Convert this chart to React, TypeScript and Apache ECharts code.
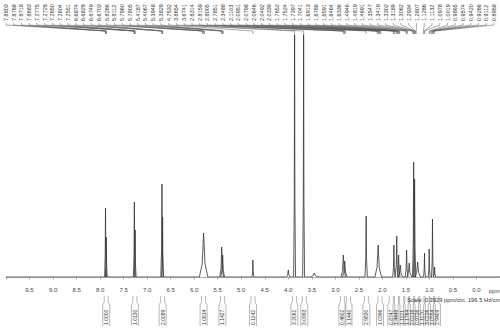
import React, { useEffect, useRef } from "react";
import * as echarts from "echarts";

// Spectrum peaks: [ppm, height (intensity units), half width (ppm)]
const peakPpm = [7.885, 7.868, 7.272, 7.255, 6.685, 6.672, 5.80, 5.415, 5.395, 4.752, 4.00, 3.866, 3.674, 3.45, 2.83, 2.80, 2.345, 2.09, 1.755, 1.695, 1.655, 1.62, 1.485, 1.43, 1.335, 1.315, 1.25, 1.105, 1.005, 0.935, 0.89];
const peakHeight = [69, 40, 75, 47, 93, 60, 44, 30, 22, 17, 7, 260, 260, 4, 22, 16, 61, 32, 32, 41, 22, 12, 27, 14, 115, 98, 15, 24, 28, 58, 10];
const peakWidth = [0.02, 0.02, 0.02, 0.02, 0.025, 0.02, 0.09, 0.04, 0.04, 0.02, 0.04, 0.02, 0.02, 0.08, 0.05, 0.05, 0.025, 0.07, 0.025, 0.025, 0.03, 0.05, 0.03, 0.05, 0.025, 0.025, 0.06, 0.02, 0.02, 0.02, 0.02];

// Peak-pick labels (ppm) shown along the top
const pickLabels = [
  7.8803, 7.8768, 7.8718, 7.8683,
  7.2775, 7.2729, 7.2650, 7.2604, 7.2551,
  6.6874, 6.6829, 6.6749, 6.6703,
  5.8266, 5.8112, 5.7960, 5.7805,
  5.4187, 5.4067, 5.3948, 5.3829,
  4.7532, 3.8654, 3.6741,
  2.8314, 2.8159, 2.8005, 2.7851,
  2.3488,
  2.1103, 2.0951, 2.0798, 2.0646, 2.0492, 2.0339,
  1.7652, 1.7524, 1.7397, 1.7041, 1.6913, 1.6786, 1.6591, 1.6464, 1.6336,
  1.4946, 1.4819, 1.4691,
  1.3547, 1.3419, 1.3302, 1.3189, 1.3062, 1.2934, 1.2807,
  1.1286, 1.1132, 1.0978, 1.0019, 0.9865, 0.9574, 0.9420, 0.9266, 0.9112, 0.8958,
];

// Integrals: position (ppm) and value
const integralPpm = [7.87, 7.26, 6.67, 5.80, 5.40, 4.75, 3.87, 3.66, 2.85, 2.72, 2.34, 2.05, 1.81, 1.70, 1.59, 1.48, 1.38, 1.27, 1.16, 1.05, 0.95, 0.84];
const integralValue = ["1.0000", "1.0130", "2.0089", "1.0614", "1.1427", "0.1142", "3.2061", "3.0993", "0.4602", "1.1440", "2.9830", "1.0396", "0.8747", "1.4449", "1.1121", "1.1764", "2.0216", "0.9726", "1.1170", "3.0226", "1.0554", "2.9409"];

const xTickLabelDigits = 1;
const scaleText = "Scale: 0.3929 ppm/cm, 196.5 Hz/cm";

function buildSpectrum(): number[][] {
  const idx = peakPpm.map((_, i) => i).sort((a, b) => peakPpm[b] - peakPpm[a]);
  const pts: number[][] = [[10.0, 0]];
  idx.forEach((i) => {
    const p = peakPpm[i];
    const h = peakHeight[i];
    const w = peakWidth[i];
    pts.push([p + w, 0]);
    pts.push([p + w / 3, h * 0.3]);
    pts.push([p, h]);
    pts.push([p - w / 3, h * 0.3]);
    pts.push([p - w, 0]);
  });
  pts.push([-0.5, 0]);
  return pts;
}

const FONT = "Liberation Sans";

export default function App() {
  const ref = useRef<HTMLDivElement>(null);
  useEffect(() => {
    if (!ref.current) return;
    const chart = echarts.init(ref.current, null, { renderer: "svg" });
    chart.setOption({
      animation: false,
      backgroundColor: "#ffffff",
      grid: { left: 6, right: -4, top: 35, bottom: 54 },
      xAxis: {
        type: "value",
        inverse: true,
        min: -0.5,
        max: 10,
        interval: 0.5,
        offset: 7,
        axisLine: { show: true, lineStyle: { color: "#9a9a9a", width: 0.8 } },
        axisTick: { show: true, length: 2.5, lineStyle: { color: "#777", width: 0.6 } },
        minorTick: { show: true, splitNumber: 5, length: 1.5, lineStyle: { color: "#aaa", width: 0.5 } },
        splitLine: { show: false },
        axisLabel: {
          fontSize: 6,
          color: "#444",
          margin: 3,
          fontFamily: FONT,
          showMinLabel: false,
          showMaxLabel: false,
          formatter: (v: number) => v.toFixed(xTickLabelDigits),
        },
      },
      yAxis: { type: "value", min: 0, max: 242, show: false },
      series: [
        {
          type: "line",
          data: buildSpectrum(),
          showSymbol: false,
          symbol: "none",
          clip: true,
          lineStyle: { color: "#333333", width: 0.8 },
        },
      ],
    });

    const toX = (ppm: number) => chart.convertToPixel({ xAxisIndex: 0 }, ppm) as number;
    const graphics: any[] = [];
    const n = pickLabels.length;
    const x0 = 6, x1 = 494;
    pickLabels.forEach((v, i) => {
      const lx = x0 + ((x1 - x0) * i) / (n - 1);
      const px = toX(v);
      graphics.push({
        type: "text",
        x: lx,
        y: 21,
        rotation: Math.PI / 2,
        style: { text: v.toFixed(4), fontSize: 5.5, fill: "#333", fontFamily: FONT, align: "left", verticalAlign: "middle" },
      });
      graphics.push({
        type: "polyline",
        shape: { points: [[lx, 23], [lx, 25], [px, 31], [px, 34]] },
        style: { stroke: "#555", lineWidth: 0.5, fill: "none" },
      });
    });
    integralPpm.forEach((p, i) => {
      const x = toX(p);
      graphics.push({
        type: "polyline",
        shape: { points: [[x - 2, 296], [x - 2, 302], [x - 3.5, 305], [x - 3.5, 326]] },
        style: { stroke: "#888", lineWidth: 0.6, fill: "none" },
      });
      graphics.push({
        type: "polyline",
        shape: { points: [[x + 2, 296], [x + 2, 302], [x + 3.5, 305], [x + 3.5, 326]] },
        style: { stroke: "#888", lineWidth: 0.6, fill: "none" },
      });
      graphics.push({
        type: "text",
        x: x,
        y: 325,
        rotation: Math.PI / 2,
        style: { text: integralValue[i], fontSize: 5, fill: "#333", fontFamily: FONT, align: "left", verticalAlign: "middle" },
      });
    });
    graphics.push({
      type: "text",
      x: 407,
      y: 300,
      style: { text: scaleText, fontSize: 5.8, fill: "#333", fontFamily: FONT, align: "left", verticalAlign: "middle" },
    });
    graphics.push({
      type: "text",
      x: 489,
      y: 291,
      style: { text: "ppm", fontSize: 6, fill: "#444", fontFamily: FONT, align: "left", verticalAlign: "middle" },
    });
    chart.setOption({ graphic: graphics });
    return () => chart.dispose();
  }, []);
  return <div ref={ref} style={{ width: 500, height: 331, position: "fixed", left: 0, top: 0 }} />;
}
